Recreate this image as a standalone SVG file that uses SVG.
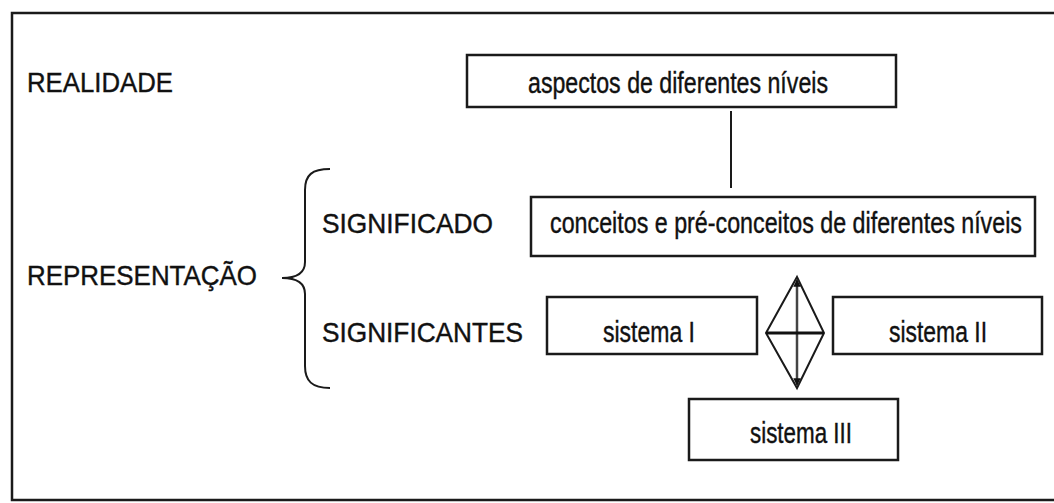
<svg xmlns="http://www.w3.org/2000/svg" width="1054" height="503" viewBox="0 0 1054 503">
<style>
.box{fill:#fff;stroke:#1a1a1a;stroke-width:2.5}
.lbl{font-family:"Liberation Sans",Arial,sans-serif;font-size:28px;fill:#111;stroke:#111;stroke-width:0.4}
.txt{font-family:"Liberation Sans",Arial,sans-serif;font-size:29px;fill:#111;stroke:#111;stroke-width:0.4}
.ln{stroke:#1a1a1a;stroke-width:2;fill:none}
</style>
<defs>
<marker id="ah" viewBox="0 0 10 10" refX="9" refY="5" markerWidth="3" markerHeight="3" orient="auto-start-reverse">
<path d="M0,0 L10,5 L0,10 z" fill="#111"/>
</marker>
</defs>
<rect x="12" y="13" width="1060" height="487" fill="#fff" stroke="#1a1a1a" stroke-width="2.5"/>
<g id="labels">
<text class="lbl" x="27" y="92" textLength="146" lengthAdjust="spacingAndGlyphs">REALIDADE</text>
<text class="lbl" x="27" y="285" textLength="230" lengthAdjust="spacingAndGlyphs">REPRESENTAÇÃO</text>
<text class="lbl" x="322" y="233" textLength="171" lengthAdjust="spacingAndGlyphs">SIGNIFICADO</text>
<text class="lbl" x="322" y="342" textLength="201" lengthAdjust="spacingAndGlyphs">SIGNIFICANTES</text>
</g>
<g id="brace">
<path class="ln" d="M330,169 C312,169 305,175 305,190 L305,262 C305,272 298,278 282,278 C298,278 305,284 305,294 L305,366 C305,381 312,388 330,388"/>
</g>
<g id="connectors">
<line class="ln" x1="731" y1="111" x2="731" y2="188"/>
<polygon class="ln" points="797,277 824,333 797,388 766,333" stroke-width="1.8"/>
<line x1="797" y1="280" x2="797" y2="385" stroke="#444" stroke-width="2.5" marker-start="url(#ah)" marker-end="url(#ah)"/>
<line x1="766" y1="333" x2="824" y2="333" stroke="#111" stroke-width="3"/>
</g>
<g id="n-aspectos">
<rect class="box" x="467" y="55" width="429" height="52"/>
<text class="txt" x="528" y="93" textLength="300" lengthAdjust="spacingAndGlyphs">aspectos de diferentes níveis</text>
</g>
<g id="n-conceitos">
<rect class="box" x="531" y="197" width="504" height="59"/>
<text class="txt" x="550" y="233" textLength="472" lengthAdjust="spacingAndGlyphs">conceitos e pré-conceitos de diferentes níveis</text>
</g>
<g id="n-sistema1">
<rect class="box" x="547" y="297" width="210" height="57"/>
<text class="txt" x="603" y="342" textLength="92" lengthAdjust="spacingAndGlyphs">sistema I</text>
</g>
<g id="n-sistema2">
<rect class="box" x="833" y="297" width="209" height="57"/>
<text class="txt" x="889" y="342" textLength="98" lengthAdjust="spacingAndGlyphs">sistema II</text>
</g>
<g id="n-sistema3">
<rect class="box" x="689" y="399" width="209" height="61"/>
<text class="txt" x="750" y="443" textLength="102" lengthAdjust="spacingAndGlyphs">sistema III</text>
</g>
</svg>
